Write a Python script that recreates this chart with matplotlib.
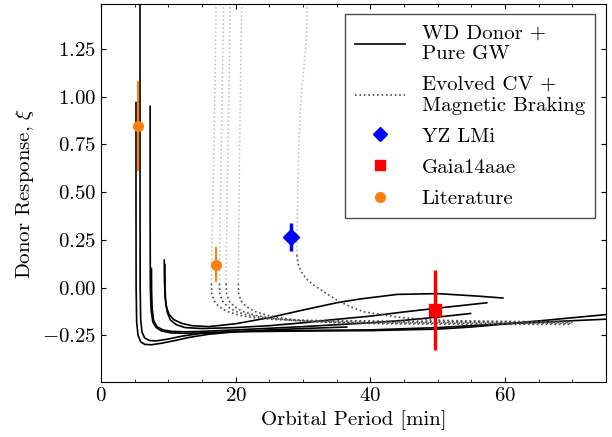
import numpy as np
import matplotlib
matplotlib.use('Agg')
import matplotlib.pyplot as plt
from matplotlib.lines import Line2D

plt.rcParams['font.family'] = 'serif'
plt.rcParams['font.serif'] = ['cmr10']
plt.rcParams['mathtext.fontset'] = 'cm'
plt.rcParams['axes.formatter.use_mathtext'] = True
plt.rcParams['font.size'] = 15

# WD donor tracks, pure GW (period [min], donor response xi)
wd1_P = [5.2, 5.2, 5.22, 5.3, 5.5, 5.9, 6.5, 7.5, 9, 11, 13, 16, 20, 25, 30, 36.5]
wd1_xi = [0.97, 0.5, 0.0, -0.18, -0.25, -0.285, -0.298, -0.300, -0.292, -0.278, -0.262, -0.245, -0.232, -0.222, -0.215, -0.207]
wd2_P = [5.8, 5.8, 5.82, 5.9, 6.1, 6.5, 7.2, 8.2, 10, 12, 15, 20, 30, 40, 50, 60, 75]
wd2_xi = [1.6, 0.5, 0.0, -0.17, -0.235, -0.265, -0.278, -0.28, -0.27, -0.255, -0.24, -0.23, -0.225, -0.222, -0.21, -0.19, -0.166]
wd3_P = [7.3, 7.3, 7.33, 7.45, 7.7, 8.2, 9, 10.5, 12.5, 15, 20, 30, 40, 50, 55, 65, 75]
wd3_xi = [0.95, 0.4, 0.0, -0.12, -0.18, -0.21, -0.228, -0.238, -0.24, -0.238, -0.232, -0.228, -0.226, -0.218, -0.207, -0.175, -0.142]
wd4_P = [7.5, 7.52, 7.6, 7.8, 8.3, 9.2, 10.5, 12.5, 15, 20, 30, 40, 45, 50, 54.9]
wd4_xi = [0.10, -0.02, -0.11, -0.17, -0.205, -0.222, -0.23, -0.232, -0.23, -0.222, -0.205, -0.185, -0.172, -0.155, -0.136]
wd5_P = [9.4, 9.42, 9.5, 9.7, 10.1, 10.8, 12, 13.5, 16, 20, 25, 30, 35, 38.5, 44, 50, 56, 59.7]
wd5_xi = [0.144, 0.05, -0.04, -0.1, -0.14, -0.168, -0.188, -0.2, -0.205, -0.19, -0.158, -0.118, -0.08, -0.06, -0.036, -0.032, -0.045, -0.055]
wd6_P = [9.5, 9.52, 9.6, 9.85, 10.3, 11.2, 12.5, 15, 20, 25, 30, 34, 40, 45, 50, 57.3]
wd6_xi = [0.12, 0.0, -0.07, -0.13, -0.17, -0.195, -0.21, -0.215, -0.21, -0.2, -0.185, -0.17, -0.15, -0.128, -0.108, -0.08]
wd_tracks = [(wd1_P, wd1_xi), (wd2_P, wd2_xi), (wd3_P, wd3_xi),
             (wd4_P, wd4_xi), (wd5_P, wd5_xi), (wd6_P, wd6_xi)]

# evolved CV tracks with magnetic braking: early part (light) and late part (dark)
cv_xi_top = [1.6, 1.0, 0.6, 0.25, 0.02]
cv1_P_top = [17.15, 16.9, 16.7, 16.5, 16.4]
cv2_P_top = [18.25, 18.0, 17.8, 17.65, 17.6]
cv3_P_top = [19.25, 19.0, 18.8, 18.65, 18.6]
cv4_P_top = [20.95, 20.7, 20.55, 20.45, 20.4]
cv1_P_bot = [16.4, 16.45, 16.8, 17.5, 18.7, 20.5, 23, 26, 30, 40, 50, 60, 70]
cv1_xi_bot = [0.02, -0.03, -0.07, -0.1, -0.125, -0.145, -0.16, -0.168, -0.172, -0.175, -0.177, -0.178, -0.178]
cv2_P_bot = [17.6, 17.65, 18.0, 18.8, 20.0, 21.8, 24.5, 28, 32, 40, 50, 60, 70]
cv2_xi_bot = [0.02, -0.03, -0.07, -0.1, -0.125, -0.145, -0.16, -0.17, -0.176, -0.18, -0.182, -0.183, -0.183]
cv3_P_bot = [18.6, 18.65, 19.0, 19.8, 21.0, 22.8, 25.5, 29, 33, 40, 50, 60, 70]
cv3_xi_bot = [0.02, -0.03, -0.07, -0.1, -0.125, -0.145, -0.162, -0.174, -0.18, -0.185, -0.187, -0.188, -0.188]
cv4_P_bot = [20.4, 20.45, 20.8, 21.6, 22.8, 24.6, 27.3, 30.5, 35, 42, 50, 60, 70]
cv4_xi_bot = [0.02, -0.03, -0.07, -0.1, -0.125, -0.145, -0.162, -0.176, -0.185, -0.19, -0.192, -0.193, -0.193]
cv5_P_top = [30.8, 30.5, 30.0, 29.6, 29.35, 29.2, 29.1]
cv5_xi_top = [1.6, 1.3, 1.1, 0.93, 0.7, 0.45, 0.17]
cv5_P_bot = [29.1, 29.3, 29.8, 30.5, 31.5, 33, 35, 37, 39, 44, 49, 55, 62, 70]
cv5_xi_bot = [0.17, 0.12, 0.08, 0.045, 0.015, -0.02, -0.065, -0.1, -0.127, -0.155, -0.17, -0.176, -0.18, -0.182]

cv_top = [(cv1_P_top, cv_xi_top), (cv2_P_top, cv_xi_top), (cv3_P_top, cv_xi_top),
          (cv4_P_top, cv_xi_top), (cv5_P_top, cv5_xi_top)]
cv_bot = [(cv1_P_bot, cv1_xi_bot), (cv2_P_bot, cv2_xi_bot), (cv3_P_bot, cv3_xi_bot),
          (cv4_P_bot, cv4_xi_bot), (cv5_P_bot, cv5_xi_bot)]

# measured systems
yz_P, yz_xi, yz_err = 28.3, 0.265, 0.073
gaia_P, gaia_xi, gaia_err = 49.6, -0.12, 0.21
lit_P = [5.45, 17.1]
lit_xi = [0.846, 0.12]
lit_err = [0.236, 0.093]

fig = plt.figure(figsize=(6.12, 4.37), dpi=100)
ax = fig.add_axes([0.165, 0.126, 0.825, 0.865])

for P, xi in wd_tracks:
    ax.plot(P, xi, '-', color='k', lw=1.2)
for P, xi in cv_top:
    ax.plot(P, xi, ':', color='0.75', lw=1.1)
for P, xi in cv_bot:
    ax.plot(P, xi, ':', color='0.3', lw=1.2)

ax.errorbar(lit_P, lit_xi, yerr=lit_err, fmt='o', color='#ff7f0e', ms=7, elinewidth=1.5, capsize=0, zorder=5)
ax.errorbar(yz_P, yz_xi, yerr=yz_err, fmt='D', color='blue', ms=8, elinewidth=2.5, capsize=0, zorder=6)
ax.errorbar(gaia_P, gaia_xi, yerr=gaia_err, fmt='s', color='red', ms=9, elinewidth=2.5, capsize=0, zorder=6)

handles = [Line2D([], [], color='k', ls='-', lw=1.2),
           Line2D([], [], color='0.3', ls=':', lw=1.2),
           Line2D([], [], color='blue', marker='D', ls='none', ms=7),
           Line2D([], [], color='red', marker='s', ls='none', ms=7.5),
           Line2D([], [], color='#ff7f0e', marker='o', ls='none', ms=7)]
labels = ['WD Donor +\nPure GW', 'Evolved CV +\nMagnetic Braking', 'YZ LMi', 'Gaia14aae', 'Literature']
leg = ax.legend(handles, labels, loc='upper right', fancybox=False, framealpha=1,
                edgecolor='0.3', handlelength=2.4, labelspacing=0.6, borderpad=0.5)
leg.get_frame().set_linewidth(1.0)

ax.set_xlim(0, 75)
ax.set_ylim(-0.495, 1.487)
ax.set_xticks([0, 20, 40, 60])
ax.set_xticks(np.arange(0, 76, 5), minor=True)
ax.set_yticks([-0.25, 0, 0.25, 0.5, 0.75, 1.0, 1.25])
ax.tick_params(direction='in', top=True, right=True, which='both')
ax.set_xlabel('Orbital Period [min]')
ax.set_ylabel(r'Donor Response, $\xi$')

fig.savefig('out.png', dpi=100)
